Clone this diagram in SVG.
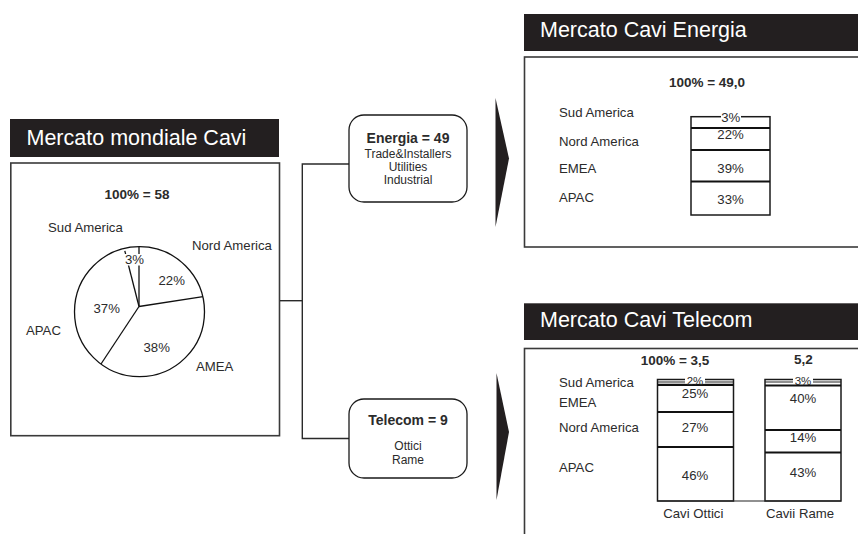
<svg xmlns="http://www.w3.org/2000/svg" width="858" height="534" viewBox="0 0 858 534">
  <style>
    text { font-family: "Liberation Sans", Arial, Helvetica, sans-serif; fill: #2b2b2b; }
    .t13 { font-size: 13.2px; }
    .t12 { font-size: 12px; }
    .t11 { font-size: 11.5px; }
    .b13 { font-size: 13.5px; font-weight: bold; }
    .b14 { font-size: 14px; font-weight: bold; }
    .mid { text-anchor: middle; }
    .title { font-size: 21.5px; fill: #ffffff; }
    .bar-title { fill: #231f20; }
    .frame { fill: #ffffff; stroke: #3a3a3a; stroke-width: 1.6; }
    .node { fill: #ffffff; stroke: #1a1a1a; stroke-width: 1.3; }
    .conn { fill: none; stroke: #2a2a2a; stroke-width: 1.4; }
    .pie { fill: none; stroke: #111; stroke-width: 1.3; }
    .bar { fill: #ffffff; stroke: #1a1a1a; stroke-width: 1.5; }
    .thick { stroke: #111; stroke-width: 2.2; }
    .thin { stroke: #222; stroke-width: 1.1; }
    .mask { fill: #ffffff; }
    .chevron { fill: #231f20; }
  </style>

  <!-- World cable market: title and pie chart -->
  <g id="world-market">
    <rect class="bar-title" x="10" y="119" width="269" height="38"/>
    <text class="title" x="26.5" y="145">Mercato mondiale Cavi</text>
    <rect class="frame" x="10.8" y="163" width="268.7" height="272.7"/>
    <text class="b13 mid" x="137" y="199">100% = 58</text>
    <text class="t13" x="48" y="232">Sud America</text>
    <text class="t13" x="192" y="250">Nord America</text>
    <text class="t13" x="26" y="335">APAC</text>
    <text class="t13" x="196" y="371">AMEA</text>
    <circle class="pie" cx="139.5" cy="311.7" r="65"/>
    <line class="pie" x1="139" y1="306.5" x2="139" y2="246.7"/>
    <line class="pie" x1="139" y1="306.5" x2="124.8" y2="250.8"/>
    <line class="pie" x1="139" y1="306.5" x2="203" y2="296.7"/>
    <line class="pie" x1="139" y1="306.5" x2="101" y2="364"/>
    <rect class="mask" x="124" y="254" width="22" height="11.5"/>
    <text class="t13 mid" x="134.5" y="263.5">3%</text>
    <text class="t13 mid" x="171.7" y="285">22%</text>
    <text class="t13 mid" x="106.7" y="313">37%</text>
    <text class="t13 mid" x="156.7" y="352">38%</text>
  </g>

  <!-- Connectors from the world market to the two segments -->
  <g id="connectors">
    <polyline class="conn" points="280,300.7 302.3,300.7"/>
    <polyline class="conn" points="349,164 302.3,164 302.3,438.5 349,438.5"/>
  </g>

  <!-- Segment nodes -->
  <g id="node-energia">
    <rect class="node" x="349" y="115" width="118" height="87" rx="15" ry="15"/>
    <text class="b14 mid" x="408" y="143.3">Energia = 49</text>
    <text class="t12 mid" x="408" y="158.3">Trade&amp;Installers</text>
    <text class="t12 mid" x="408" y="171">Utilities</text>
    <text class="t12 mid" x="408" y="184.3">Industrial</text>
  </g>
  <g id="node-telecom">
    <rect class="node" x="349" y="399" width="118" height="79" rx="15" ry="15"/>
    <text class="b14 mid" x="408" y="425">Telecom = 9</text>
    <text class="t12 mid" x="408" y="450">Ottici</text>
    <text class="t12 mid" x="408" y="464">Rame</text>
  </g>

  <!-- Chevrons pointing to the detail panels -->
  <g id="arrow-energia">
    <polygon class="chevron" points="495.5,98 509,158.5 495.5,227"/>
  </g>
  <g id="arrow-telecom">
    <polygon class="chevron" points="496.5,373 509,432 496.5,500"/>
  </g>

  <!-- Energy cables panel -->
  <g id="panel-energia">
    <rect class="bar-title" x="524" y="14" width="340" height="37"/>
    <text class="title" x="540" y="37.3">Mercato Cavi Energia</text>
    <rect class="frame" x="524.5" y="57" width="340" height="190"/>
    <text class="b13 mid" x="707" y="87.3">100% = 49,0</text>
    <text class="t13" x="559" y="117.3">Sud America</text>
    <text class="t13" x="559" y="146">Nord America</text>
    <text class="t13" x="559" y="173.3">EMEA</text>
    <text class="t13" x="559" y="201.7">APAC</text>
    <rect class="bar" x="691" y="116.7" width="79" height="98.3"/>
    <line class="thick" x1="691" y1="128" x2="770" y2="128"/>
    <line class="thick" x1="691" y1="150" x2="770" y2="150"/>
    <line class="thick" x1="691" y1="181.5" x2="770" y2="181.5"/>
    <rect class="mask" x="721" y="114" width="20" height="6"/>
    <text class="t13 mid" x="730.7" y="121.7">3%</text>
    <text class="t13 mid" x="730.5" y="139.3">22%</text>
    <text class="t13 mid" x="730.5" y="173.3">39%</text>
    <text class="t13 mid" x="730.5" y="204">33%</text>
  </g>

  <!-- Telecom cables panel -->
  <g id="panel-telecom">
    <rect class="bar-title" x="524" y="303.3" width="340" height="36.7"/>
    <text class="title" x="540" y="327">Mercato Cavi Telecom</text>
    <rect class="frame" x="524.5" y="348.5" width="340" height="200"/>
    <text class="b13 mid" x="675" y="365">100% = 3,5</text>
    <text class="b13 mid" x="803.3" y="363.5">5,2</text>
    <text class="t13" x="559" y="387.3">Sud America</text>
    <text class="t13" x="559" y="407.3">EMEA</text>
    <text class="t13" x="559" y="431.7">Nord America</text>
    <text class="t13" x="559" y="471.7">APAC</text>

    <!-- Cavi Ottici -->
    <rect class="bar" x="657.5" y="379.5" width="76" height="121.5"/>
    <line class="thin" x1="657.5" y1="382" x2="733.5" y2="382"/>
    <line class="thick" x1="657.5" y1="384.8" x2="733.5" y2="384.8"/>
    <line class="thick" x1="657.5" y1="412" x2="733.5" y2="412"/>
    <line class="thick" x1="657.5" y1="447" x2="733.5" y2="447"/>
    <rect class="mask" x="685" y="377" width="20" height="6.5"/>
    <text class="t11 mid" x="695" y="384.5">2%</text>
    <text class="t13 mid" x="695" y="398.3">25%</text>
    <text class="t13 mid" x="695" y="432.3">27%</text>
    <text class="t13 mid" x="695" y="480">46%</text>

    <!-- Cavii Rame -->
    <rect class="bar" x="765" y="379.5" width="76" height="121.5"/>
    <line class="thin" x1="765" y1="382" x2="841" y2="382"/>
    <line class="thick" x1="765" y1="385.5" x2="841" y2="385.5"/>
    <line class="thick" x1="765" y1="430" x2="841" y2="430"/>
    <line class="thick" x1="765" y1="452.5" x2="841" y2="452.5"/>
    <rect class="mask" x="793" y="377" width="20" height="7"/>
    <text class="t11 mid" x="803" y="385">3%</text>
    <text class="t13 mid" x="803" y="403.3">40%</text>
    <text class="t13 mid" x="803" y="441.7">14%</text>
    <text class="t13 mid" x="803" y="476.7">43%</text>

    <line class="thin" x1="657.5" y1="501" x2="841" y2="501"/>
    <text class="t13 mid" x="693.3" y="518.3">Cavi Ottici</text>
    <text class="t13 mid" x="800" y="518.3">Cavii Rame</text>
  </g>
</svg>
